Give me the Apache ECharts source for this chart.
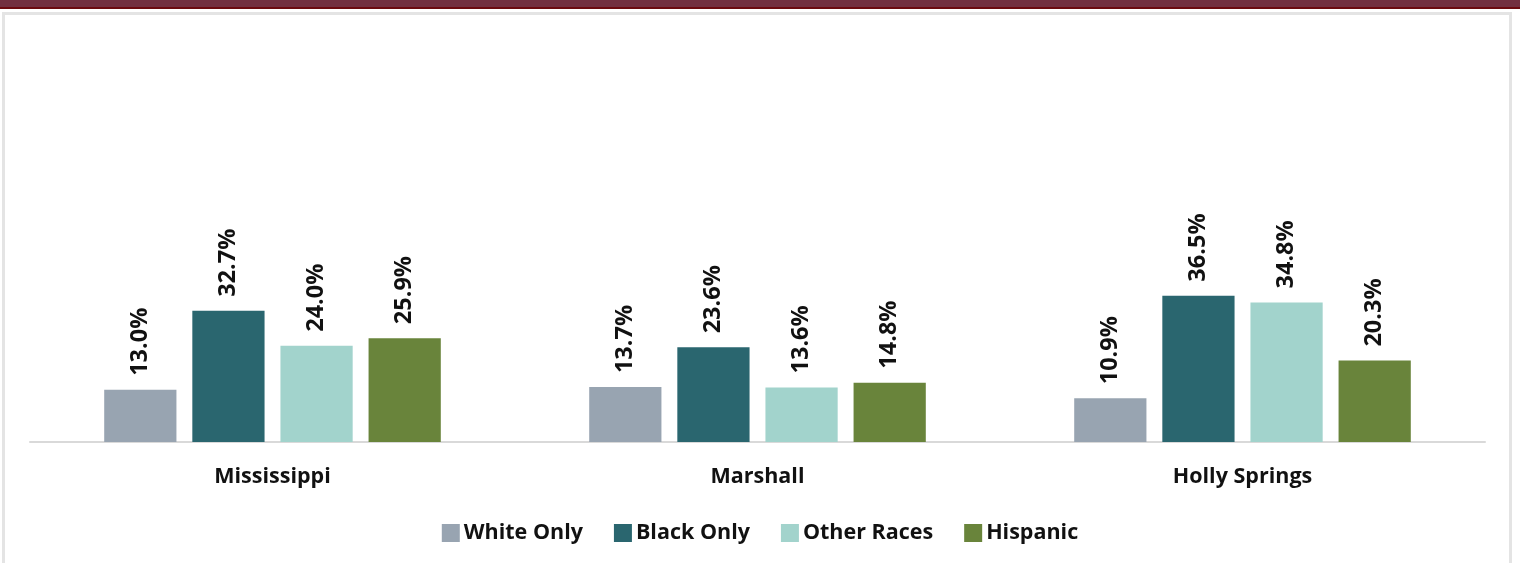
<!DOCTYPE html>
<html>
<head>
<meta charset="utf-8">
<script src="https://cdn.jsdelivr.net/npm/echarts@6/dist/echarts.min.js"></script>
<style>
  html, body { margin: 0; padding: 0; background: #fff; }
  .page { position: relative; width: 1520px; height: 563px; overflow: hidden; }
  .topbar {
    position: absolute; left: 0; top: 0; width: 1520px; height: 7px;
    background: #722f40; border-bottom: 2px solid #6b0a10;
  }
  .frame {
    position: absolute; left: 2px; top: 12px; width: 1510px; height: 560px;
    border: 3px solid #e4e4e4; box-sizing: border-box; background: #fff;
  }
  #chart { position: absolute; left: 0; top: 0; width: 1520px; height: 563px; }
</style>
</head>
<body>
<div class="page">
  <div class="topbar"></div>
  <div class="frame"></div>
  <div id="chart"></div>
</div>
<script>
const categories = ['Mississippi', 'Marshall', 'Holly Springs']
const whiteOnly = [13.0, 13.7, 10.9]
const blackOnly = [32.7, 23.6, 36.5]
const otherRaces = [24.0, 13.6, 34.8]
const hispanic = [25.9, 14.8, 20.3]

const SERIES = [
  { name: 'White Only', data: whiteOnly, color: '#98a4b1' },
  { name: 'Black Only', data: blackOnly, color: '#2a666f' },
  { name: 'Other Races', data: otherRaces, color: '#a2d3cc' },
  { name: 'Hispanic', data: hispanic, color: '#69843b' }
]

const FONT = '"Open Sans", sans-serif'

const chart = echarts.init(document.getElementById('chart'))
chart.setOption({
  animation: false,
  backgroundColor: 'transparent',
  grid: { left: 30, right: 35, top: 41, bottom: 121 },
  legend: {
    bottom: 14,
    left: 'center',
    itemWidth: 18,
    itemHeight: 18,
    itemGap: 31,
    icon: 'rect',
    textStyle: { fontFamily: FONT, fontSize: 21.5, fontWeight: 'bold', color: '#111', padding: [0, 0, 0, -1] }
  },
  xAxis: {
    type: 'category',
    data: categories,
    axisLine: { lineStyle: { color: '#d9d9d9', width: 2 } },
    axisTick: { show: false },
    axisLabel: { fontFamily: FONT, fontSize: 21.5, fontWeight: 'bold', color: '#111', margin: 24 }
  },
  yAxis: {
    type: 'value',
    min: 0,
    max: 100,
    show: false,
    splitLine: { show: false }
  },
  series: SERIES.map(s => ({
    type: 'bar',
    name: s.name,
    data: s.data,
    barGap: '22%',
    barCategoryGap: '30.6%',
    itemStyle: { color: s.color },
    label: {
      show: true,
      position: 'top',
      rotate: 90,
      align: 'left',
      verticalAlign: 'middle',
      distance: 14,
      fontFamily: FONT,
      fontSize: 23.5,
      fontWeight: 'bold',
      color: '#111',
      formatter: p => p.value.toFixed(1) + '%'
    }
  }))
})
</script>
</body>
</html>
